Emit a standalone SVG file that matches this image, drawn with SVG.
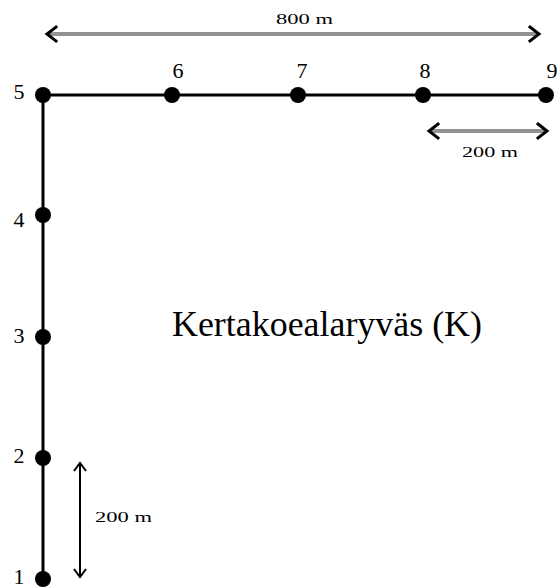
<svg xmlns="http://www.w3.org/2000/svg" width="560" height="588" viewBox="0 0 560 588">
<style>
.lbl{font-family:"Liberation Serif","Times New Roman",serif;fill:#000;}
.num{font-size:22px;}
.dim{font-size:15px;}
.big{font-size:35px;}
.line{stroke:#000;stroke-width:3;fill:none;}
.dot{fill:#000;}
.gshaft{stroke:#939393;stroke-width:4;fill:none;}
.head{stroke:#000;stroke-width:3;fill:none;stroke-linecap:square;}
.vshaft{stroke:#000;stroke-width:2;fill:none;}
.vhead{stroke:#000;stroke-width:2;fill:none;}
</style>
<g id="connectors">
<line class="line" x1="43" y1="95" x2="546" y2="95"/>
<line class="line" x1="43" y1="95" x2="43" y2="580"/>
</g>
<g id="dim800">
<line class="gshaft" x1="48" y1="34" x2="538" y2="34"/>
<polyline class="head" points="56,27 47,34 56,41"/>
<polyline class="head" points="530,27 539,34 530,41"/>
<text class="lbl dim" x="276" y="24" textLength="57" lengthAdjust="spacingAndGlyphs">800 m</text>
</g>
<g id="dim200h">
<line class="gshaft" x1="430" y1="131" x2="546" y2="131"/>
<polyline class="head" points="438,124 429,131 438,138"/>
<polyline class="head" points="538,124 547,131 538,138"/>
<text class="lbl dim" x="462" y="157" textLength="56" lengthAdjust="spacingAndGlyphs">200 m</text>
</g>
<g id="dim200v">
<line class="vshaft" x1="80" y1="463" x2="80" y2="577"/>
<polyline class="vhead" points="74,471 80,463 86,471"/>
<polyline class="vhead" points="74,569 80,577 86,569"/>
<text class="lbl dim" x="95" y="522" textLength="57" lengthAdjust="spacingAndGlyphs">200 m</text>
</g>
<g id="n5"><circle class="dot" cx="43" cy="95" r="8"/><text class="lbl num" x="19" y="99" text-anchor="middle">5</text></g>
<g id="n6"><circle class="dot" cx="172" cy="95" r="8"/><text class="lbl num" x="178" y="78" text-anchor="middle">6</text></g>
<g id="n7"><circle class="dot" cx="298" cy="95" r="8"/><text class="lbl num" x="302" y="78" text-anchor="middle">7</text></g>
<g id="n8"><circle class="dot" cx="423" cy="95" r="8"/><text class="lbl num" x="425" y="78" text-anchor="middle">8</text></g>
<g id="n9"><circle class="dot" cx="546" cy="95" r="8"/><text class="lbl num" x="552" y="78" text-anchor="middle">9</text></g>
<g id="n4"><circle class="dot" cx="43" cy="215" r="8"/><text class="lbl num" x="19" y="227" text-anchor="middle">4</text></g>
<g id="n3"><circle class="dot" cx="43" cy="337" r="8"/><text class="lbl num" x="19" y="343" text-anchor="middle">3</text></g>
<g id="n2"><circle class="dot" cx="43" cy="458" r="8"/><text class="lbl num" x="19" y="463" text-anchor="middle">2</text></g>
<g id="n1"><circle class="dot" cx="43" cy="579" r="8"/><text class="lbl num" x="19" y="584" text-anchor="middle">1</text></g>
<g id="title"><text class="lbl big" x="172" y="336" textLength="310" lengthAdjust="spacingAndGlyphs">Kertakoealaryväs (K)</text></g>
</svg>
